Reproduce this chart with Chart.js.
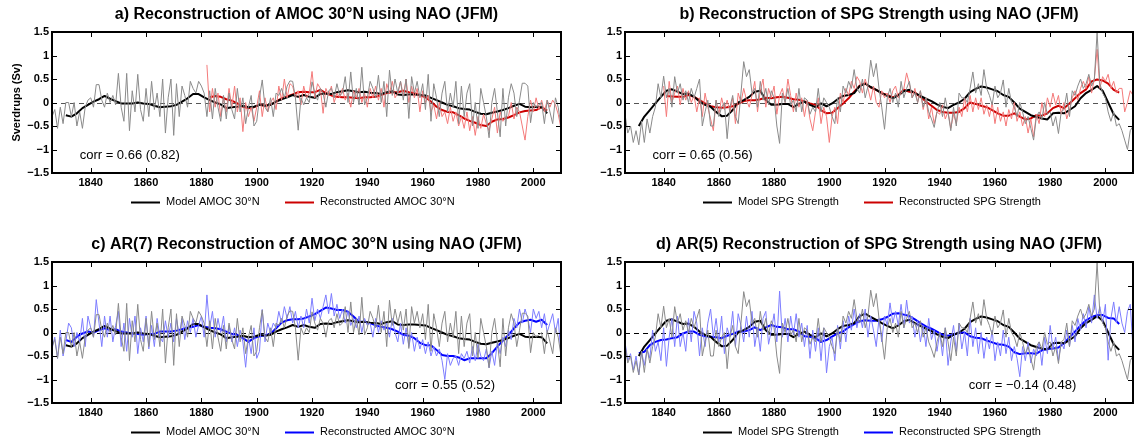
<!DOCTYPE html>
<html>
<head>
<meta charset="utf-8">
<script src="https://cdn.jsdelivr.net/npm/chart.js@4.4.1/dist/chart.umd.min.js"></script>
<style>
html, body { margin: 0; padding: 0; background: #fff; overflow: hidden; width: 1134px; height: 442px; }
.panel { position: absolute; }
</style>
</head>
<body>
<div class="panel" style="left:0;top:0"><canvas id="pa" width="567" height="230"></canvas></div>
<div class="panel" style="left:567px;top:0"><canvas id="pb" width="567" height="230"></canvas></div>
<div class="panel" style="left:0;top:230px"><canvas id="pc" width="567" height="212"></canvas></div>
<div class="panel" style="left:567px;top:230px"><canvas id="pd" width="567" height="212"></canvas></div>
<script>
// year axes
function span(a, b, step) { var out = []; for (var v = a; v <= b; v += step) out.push(v); return out; }
var yearsAll = span(1826, 2010, 1);
var yearsSmooth = span(1831, 2005, 2);
var yearsAmocNao = span(1882, 2010, 1);
var yearsAmocNaoSm = span(1883, 2005, 2);
var yearsSpgNao = span(1840, 2010, 1);
var yearsSpgNaoSm = span(1841, 2005, 2);

// AMOC 30N, model (annual + smoothed)
var amocModel = [
  -0.3, -0.15, -0.55, -0.1, -0.45, 0.0, 0.0, -0.3, 0.0, -0.5,
  -0.2, -0.55, -0.1, 0.05, 0.1, -0.1, 0.38, 0.38, 0.05, -0.1,
  0.2, 0.0, 0.15, -0.05, 0.62, -0.1, -0.4, 0.62, -0.6, 0.25,
  -0.2, 0.6, -0.15, -0.4, 0.3, -0.3, 0.45, -0.15, 0.2, -0.3,
  0.5, -0.65, 0.1, 0.5, -0.7, 0.4, -0.3, 0.35, 0.15, -0.1,
  0.45, 0.3, 0.2, 0.45, 0.35, 0.2, -0.3, 0.25, -0.35, 0.3,
  -0.1, -0.4, 0.15, -0.35, 0.2, -0.15, -0.35, 0.3, -0.2, 0.1,
  -0.45, -0.1, 0.15, -0.5, -0.4, 0.1, 0.48, -0.1, -0.2, 0.1,
  -0.3, 0.2, 0.15, 0.3, 0.1, 0.35, 0.46, 0.45, 0.1, -0.59,
  0.1, -0.05, 0.1, 0.0, 0.44, 0.2, 0.05, 0.3, 0.2, -0.1,
  0.25, 0.3, 0.1, 0.4, 0.15, 0.2, 0.55, 0.0, 0.65, 0.0,
  0.3, -0.05, 0.75, -0.05, 0.1, 0.45, 0.3, 0.1, 0.58, 0.0,
  0.45, -0.3, 0.69, 0.15, 0.5, 0.2, 0.45, 0.05, 0.5, -0.34,
  0.55, 0.2, 0.45, 0.1, 0.4, -0.15, 0.6, -0.4, 0.4, 0.1,
  -0.3, 0.2, 0.45, -0.2, 0.2, -0.1, 0.45, -0.45, 0.35, -0.3,
  0.2, 0.4, -0.5, 0.0, -0.55, 0.3, 0.0, -0.3, -0.75, 0.0,
  0.3, -0.2, -0.73, 0.3, -0.5, 0.1, 0.4, 0.2, -0.3, 0.05,
  0.41, 0.41, 0.35, -0.43, 0.0, -0.1, -0.05, 0.0, -0.45, 0.05,
  -0.2, -0.45, 0.1, -0.1, -0.5
];
var amocModelSm = [
  -0.27, -0.30, -0.23, -0.12, -0.05,
  0.02, 0.07, 0.14, 0.08, 0.03,
  -0.02, -0.02, -0.02, 0.0, -0.02,
  -0.03, -0.07, -0.10, -0.09, -0.08,
  -0.05, 0.02, 0.09, 0.18, 0.18,
  0.11, 0.05, 0.0, -0.04, -0.12,
  -0.10, -0.09, -0.07, -0.10, -0.09,
  -0.05, -0.07, -0.05, 0.02, 0.07,
  0.11, 0.16, 0.12, 0.16, 0.12,
  0.10, 0.18, 0.19, 0.18, 0.22,
  0.24, 0.26, 0.24, 0.22, 0.23,
  0.21, 0.20, 0.18, 0.22, 0.24,
  0.17, 0.16, 0.17, 0.17, 0.16,
  0.15, 0.10, 0.05, 0.0, -0.05,
  -0.08, -0.12, -0.14, -0.15, -0.20,
  -0.24, -0.25, -0.22, -0.19, -0.16,
  -0.12, -0.07, -0.03, -0.09, -0.10,
  -0.09, -0.10, -0.23
];

// AMOC 30N reconstructed from NAO
var amocNao = [
  0.8, -0.2, 0.3, -0.1,
  0.2, -0.3, 0.1, -0.2, 0.3, -0.1, 0.35, -0.2, 0.1, -0.62,
  0.0, -0.3, -0.1, -0.4, -0.1, 0.25, -0.3, 0.1, -0.2, 0.0,
  0.1, -0.15, 0.35, 0.05, 0.5, 0.1, 0.4, 0.35, 0.1, 0.25,
  -0.05, 0.35, 0.1, 0.2, 0.66, 0.1, 0.4, 0.3, -0.23, 0.3,
  0.15, 0.35, 0.0, 0.2, 0.1, 0.3, 0.05, 0.2, -0.1, 0.25,
  0.1, 0.3, 0.0, 0.2, -0.1, 0.3, 0.1, 0.35, 0.05, 0.3,
  -0.1, 0.4, 0.2, 0.45, 0.1, 0.2, 0.45, 0.15, 0.5, 0.0,
  0.35, 0.1, 0.3, -0.2, 0.25, 0.0, 0.15, -0.2, -0.05, -0.35,
  0.0, -0.3, -0.2, -0.45, -0.1, -0.4, -0.2, -0.5, -0.3, -0.55,
  -0.2, -0.6, -0.3, -0.7, -0.3, -0.55, -0.25, -0.45, -0.6, -0.35,
  -0.1, -0.65, -0.2, -0.4, -0.3, -0.3, 0.0, -0.35, -0.1, -0.2,
  -0.5, -0.8, -0.3, 0.05, -0.2, 0.1, -0.15, 0.05, -0.2, 0.05,
  -0.1, 0.05, -0.05, -0.25, -0.55
];
var amocNaoSm = [
  0.11, 0.14, 0.12, 0.07,
  0.04, -0.02, -0.09, -0.12, -0.10,
  -0.05, -0.07, -0.05, 0.02, 0.09,
  0.13, 0.17, 0.22, 0.23, 0.22,
  0.22, 0.27, 0.20, 0.15, 0.12,
  0.11, 0.11, 0.10, 0.09, 0.11,
  0.11, 0.12, 0.16, 0.20, 0.22,
  0.22, 0.25, 0.22, 0.20, 0.16,
  0.11, 0.02, -0.09, -0.16, -0.20,
  -0.21, -0.27, -0.34, -0.39, -0.43,
  -0.48, -0.50, -0.41, -0.36, -0.35,
  -0.32, -0.27, -0.21, -0.18, -0.17,
  -0.16, -0.10, -0.17
];

// AMOC 30N, AR(7) reconstruction
var amocAr = [
  -0.35, -0.1, -0.55, 0.05, -0.5, -0.2, 0.2, 0.1, -0.3, 0.0,
  -0.2, 0.3, -0.3, 0.35, 0.1, -0.1, 0.7, 0.2, -0.3, 0.35,
  -0.1, 0.35, -0.2, 0.15, 0.45, -0.3, 0.2, -0.4, 0.3, -0.1,
  0.35, -0.45, 0.1, -0.2, 0.35, -0.35, 0.15, -0.3, 0.3, -0.1,
  -0.2, 0.25, -0.1, 0.2, -0.2, 0.3, -0.05, 0.3, -0.15, 0.25,
  0.0, 0.3, -0.1, 0.15, 0.35, -0.1, 0.8, 0.1, 0.45, -0.1,
  0.3, 0.0, 0.35, -0.2, 0.15, -0.2, 0.1, -0.3, 0.05, -0.2,
  -0.74, -0.1, -0.45, 0.1, -0.55, -0.4, 0.49, -0.2, 0.2, 0.0,
  0.2, 0.1, 0.45, 0.2, 0.55, 0.3, 0.55, 0.2, 0.45, 0.1,
  0.35, 0.1, 0.5, 0.2, 0.73, 0.25, 0.5, 0.3, 0.55, 0.8,
  0.4, 0.83, 0.35, 0.6, 0.3, 0.5, 0.2, 0.45, 0.15, 0.3,
  0.1, 0.35, 0.0, 0.3, 0.15, 0.2, -0.1, 0.3, 0.0, 0.25,
  0.05, 0.2, -0.1, 0.3, 0.0, -0.2, 0.2, -0.25, 0.1, -0.3,
  0.0, -0.4, -0.1, -0.35, -0.15, -0.45, -0.2, -0.5, -0.3, -0.5,
  -0.35, -0.6, -1.0, -0.45, -0.7, -0.55, -0.5, -0.7, -0.45, -0.55,
  -0.4, -0.65, -0.3, -0.6, -0.25, -0.5, -0.6, -0.35, -0.75, -0.4,
  -0.7, -0.2, -0.45, -0.1, -0.3, 0.05, -0.15, 0.3, 0.1, 0.5,
  0.2, 0.5, 0.3, 0.0, 0.5, 0.3, 0.45, 0.1, 0.4, 0.0,
  0.2, 0.4, 0.0, 0.3, -0.5
];
var amocArSm = [
  -0.16, -0.20, -0.09, -0.02, 0.02,
  0.0, 0.05, 0.09, 0.05, 0.07,
  0.02, 0.0, -0.02, -0.03, -0.05,
  -0.03, -0.03, 0.02, 0.02, 0.02,
  0.04, 0.07, 0.10, 0.12, 0.16,
  0.12, 0.10, 0.09, 0.07, 0.02,
  -0.03, -0.05, -0.12, -0.20, -0.12,
  -0.08, -0.06, -0.03, 0.09, 0.21,
  0.26, 0.28, 0.28, 0.30, 0.34,
  0.39, 0.46, 0.53, 0.51, 0.48,
  0.48, 0.44, 0.34, 0.23, 0.23,
  0.20, 0.15, 0.12, 0.10, 0.07,
  0.02, -0.05, -0.07, -0.12, -0.22,
  -0.27, -0.27, -0.37, -0.48, -0.50,
  -0.50, -0.53, -0.59, -0.55, -0.55,
  -0.55, -0.55, -0.44, -0.30, -0.17,
  -0.05, 0.09, 0.21, 0.25, 0.27,
  0.23, 0.27, 0.16
];

// SPG strength, model
var spgModel = [
  -0.25, -0.65, -0.5, -0.85, -0.6, -0.9, -0.4, -0.85, -0.35, -0.65,
  -0.3, -0.1, 0.4, 0.1, 0.56, 0.1, 0.3, -0.1, 0.55, 0.2,
  0.4, 0.05, 0.25, 0.0, 0.3, 0.1, 0.3, 0.5, -0.5, -0.2,
  0.05, -0.5, -0.5, 0.05, -0.3, -0.1, 0.0, -0.77, -0.1, 0.15,
  -0.3, -0.45, 0.2, 0.87, 0.55, 0.7, 0.2, 0.3, -0.1, 0.45,
  0.05, 0.3, -0.05, 0.25, 0.1, -0.5, -0.87, 0.2, 0.0, 0.3,
  -0.05, 0.05, -0.2, 0.3, -0.2, 0.1, 0.05, -0.25, -0.1, -0.2,
  0.3, -0.2, 0.1, 0.0, -0.1, -0.3, -0.45, 0.1, -0.2, 0.35,
  0.2, 0.45, 0.3, 0.7, 0.3, 0.2, 0.5, 0.1, 0.35, 0.9,
  0.55, 0.83, 0.3, -0.1, -0.57, 0.1, 0.3, 0.0, 0.2, -0.1,
  0.45, 0.1, 0.3, 0.45, 0.1, 0.2, 0.0, 0.25, -0.1, 0.1,
  -0.2, -0.35, -0.53, -0.2, 0.0, -0.3, 0.1, -0.2, -0.6, -0.1,
  -0.5, 0.2, 0.1, 0.1, 0.0, 0.3, 0.65, 0.2, 0.4, 0.15,
  0.7, 0.3, 0.15, -0.05, 0.35, 0.1, 0.2, 0.48, -0.1, 0.3,
  0.0, -0.1, -0.3, 0.0, -0.2, -0.45, -0.3, -0.55, -0.8, -0.3,
  -0.2, -0.35, 0.0, -0.25, -0.2, -0.5, -0.3, -0.66, -0.2, -0.15,
  0.2, -0.3, 0.25, 0.15, 0.35, 0.5, 0.3, 0.4, 0.6, 0.35,
  0.5, 1.49, 0.4, 0.2, 0.1, -0.2, -0.4, -0.2, -0.5, -0.45,
  -0.6, -0.8, -1.0, -0.6, -0.5
];
var spgModelSm = [
  -0.50, -0.30, -0.16, -0.02, 0.12,
  0.25, 0.28, 0.23, 0.18, 0.19,
  0.12, 0.02, -0.05, -0.09, -0.20,
  -0.29, -0.28, -0.16, 0.0, 0.05,
  0.12, 0.23, 0.25, 0.05, -0.05,
  -0.05, -0.03, -0.03, -0.10, -0.03,
  0.02, -0.05, -0.10, -0.02, -0.08,
  -0.02, 0.07, 0.14, 0.16, 0.20,
  0.35, 0.40, 0.33, 0.27, 0.20,
  0.14, 0.09, 0.15, 0.24, 0.27,
  0.20, 0.14, 0.08, 0.03, -0.04,
  -0.09, -0.12, -0.05, 0.0, 0.08,
  0.22, 0.29, 0.34, 0.32, 0.28,
  0.24, 0.16, 0.12, 0.0, -0.13,
  -0.20, -0.27, -0.31, -0.34, -0.36,
  -0.23, -0.22, -0.23, -0.16, -0.08,
  0.09, 0.20, 0.27, 0.35, 0.25,
  0.0, -0.25, -0.37
];

// SPG strength reconstructed from NAO
var spgNao = [
  0.35, -0.3, 0.45, 0.0, 0.2, 0.35, -0.05, 0.3, 0.05, 0.25,
  0.0, 0.15, -0.2, 0.1, -0.3, 0.2, -0.1, -0.35, -0.6, 0.05,
  -0.25, 0.1, -0.15, 0.05, -0.2, 0.1, -0.45, 0.2, 0.0, 0.3,
  0.05, -0.1, 0.15, 0.45, -0.2, 0.25, 0.5, -0.1, 0.3, 0.1,
  0.35, -0.25, 0.15, 0.3, 0.0, 0.5, 0.15, -0.2, 0.2, -0.1,
  0.1, -0.3, 0.05, -0.35, -0.6, -0.2, 0.1, -0.45, -0.1, -0.3,
  -0.85, -0.3, -0.1, -0.45, 0.2, 0.0, 0.3, 0.15, 0.45, 0.3,
  0.55, 0.45, 0.2, 0.5, 0.3, 0.05, 0.35, 0.0, -0.1, 0.25,
  0.1, 0.2, 0.0, 0.25, 0.35, 0.1, 0.2, 0.3, 0.63, 0.4,
  0.1, 0.3, 0.0, 0.25, -0.15, 0.1, -0.35, -0.1, -0.45, -0.2,
  -0.25, -0.05, -0.35, -0.2, -0.55, -0.25, -0.45, -0.1, -0.3, 0.1,
  -0.2, 0.15, -0.2, 0.1, -0.15, 0.1, -0.25, -0.05, -0.3, 0.0,
  -0.45, -0.1, -0.4, -0.2, -0.5, -0.15, -0.35, 0.0, -0.4, -0.2,
  -0.5, -0.3, -0.65, -0.35, -0.73, -0.25, -0.45, 0.0, -0.3, 0.1,
  -0.1, 0.2, -0.05, 0.15, -0.25, 0.0, -0.35, -0.15, 0.1, 0.25,
  0.05, 0.3, 0.45, 0.3, 0.55, 0.2, 0.5, 1.13, 0.3, 0.55,
  0.45, 0.6, 0.3, 0.45, 0.2, 0.3, 0.3, -0.2, 0.0, 0.25,
  0.15
];
var spgNaoSm = [
  0.14, 0.13, 0.12, 0.12, 0.16,
  0.12, 0.05, -0.02, -0.08, -0.10,
  -0.11, -0.10, -0.08, -0.03, 0.03,
  0.05, 0.05, 0.07, 0.10, 0.09,
  0.11, 0.12, 0.10, 0.07, 0.06,
  0.02, -0.02, -0.05, -0.16, -0.23,
  -0.22, -0.12, -0.02, 0.09, 0.23,
  0.36, 0.41, 0.32, 0.27, 0.20,
  0.16, 0.11, 0.16, 0.27, 0.23,
  0.21, 0.12, 0.02, -0.07, -0.16,
  -0.20, -0.22, -0.22, -0.20, -0.12,
  0.0, -0.03, -0.07, -0.10, -0.16,
  -0.23, -0.28, -0.28, -0.23, -0.30,
  -0.36, -0.34, -0.27, -0.28, -0.23,
  -0.12, -0.07, -0.12, -0.02, 0.09,
  0.20, 0.28, 0.45, 0.49, 0.47,
  0.40, 0.27, 0.21
];

// SPG strength, AR(5) reconstruction
var spgAr = [
  -0.2, -0.6, -0.45, -0.8, -0.5, -0.9, -0.4, -0.7, -0.35, -0.55,
  0.05, -0.4, -0.2, -0.6, 0.1, -0.72, -0.1, 0.3, -0.3, 0.35,
  -0.3, 0.0, -0.4, 0.3, -0.2, 0.45, 0.2, -0.5, 0.1, -0.3,
  0.2, 0.5, -0.1, 0.3, -0.2, 0.35, -0.45, 0.1, -0.1, 0.45,
  -0.3, 0.4, 0.15, -0.2, 0.35, -0.1, 0.45, -0.3, 0.1, -0.4,
  0.3, 0.45, -0.25, 0.05, 0.4, -0.2, 0.88, -0.1, 0.3, -0.2,
  0.35, -0.05, 0.4, -0.1, 0.2, -0.3, 0.15, -0.55, 0.05, -0.4,
  0.1, -0.6, 0.1, -0.86, -0.3, -0.1, -0.6, 0.15, -0.35, 0.25,
  -0.2, 0.35, 0.05, 0.5, 0.1, 0.4, 0.1, 0.5, -0.1, 0.35,
  0.05, -0.3, 0.3, -0.2, 0.35, 0.15, 0.63, 0.2, 0.45, 0.15,
  0.6, 0.1, 0.69, 0.2, 0.35, -0.1, 0.25, -0.2, 0.15, -0.3,
  0.3, -0.15, 0.05, -0.4, 0.0, -0.5, 0.1, -0.7, -0.2, 0.15,
  -0.4, 0.2, -0.35, 0.0, -0.5, 0.3, -0.3, 0.1, -0.45, 0.0,
  -0.55, -0.1, -0.35, 0.05, -0.6, -0.2, -0.5, 0.05, -0.45, -0.1,
  -0.6, -0.3, -0.55, -0.94, -0.3, -0.6, -0.2, -0.65, -0.35, -0.5,
  -0.2, -0.7, -0.1, -0.45, 0.15, -0.35, -0.1, -0.6, -0.2, -0.35,
  0.05, -0.3, 0.15, -0.2, 0.3, 0.05, 0.4, 0.1, 0.55, 0.2,
  0.8, 0.3, 0.55, 0.2, 0.6, -0.59, 0.3, 0.65, 0.2, 0.55,
  0.2, 0.0, 0.45, 0.6, -0.34
];
var spgArSm = [
  -0.44, -0.41, -0.27, -0.20, -0.16,
  -0.15, -0.12, -0.10, -0.02, 0.02,
  0.02, -0.05, -0.08, -0.09, -0.10,
  -0.12, -0.07, -0.03, 0.02, 0.02,
  0.05, 0.11, 0.05, 0.11, 0.16,
  0.12, 0.11, 0.07, 0.07, 0.02,
  -0.08, -0.09, -0.12, -0.20, -0.16,
  -0.09, -0.02, 0.02, 0.11, 0.18,
  0.24, 0.26, 0.25, 0.25, 0.28,
  0.33, 0.40, 0.41, 0.38, 0.35,
  0.28, 0.20, 0.13, 0.08, 0.02,
  -0.05, -0.07, -0.05, 0.0, 0.0,
  -0.08, -0.11, -0.12, -0.17, -0.21,
  -0.25, -0.26, -0.30, -0.42, -0.46,
  -0.44, -0.44, -0.45, -0.38, -0.35,
  -0.34, -0.32, -0.23, -0.10, 0.02,
  0.15, 0.26, 0.33, 0.37, 0.37,
  0.31, 0.30, 0.18
];

var xTicks = [1840, 1860, 1880, 1900, 1920, 1940, 1960, 1980, 2000];
var yTicks = [-1.5, -1, -0.5, 0, 0.5, 1, 1.5];

var FONT = "'Liberation Sans', Arial, Helvetica, sans-serif";
Chart.defaults.font.family = FONT;
Chart.defaults.color = '#000';

var GRAY = '#8a8a8a', LRED = '#f47a7a', RED = '#cc0000', LBLUE = '#7d7dff', BLUE = '#0000ff';

function pts(xs, ys) { return xs.map(function (x, i) { return { x: x, y: ys[i] }; }); }

// dashed zero line, box and inward ticks (MATLAB style)
var framePlugin = {
  id: 'frame',
  beforeDatasetsDraw: function (chart, args, opts) {
    var c = chart.ctx, a = chart.chartArea, y0 = Math.round(chart.scales.y.getPixelForValue(0)) + 0.5;
    c.save();
    c.strokeStyle = opts.zeroColor;
    c.lineWidth = 1.2;
    c.setLineDash([5, 4]);
    c.beginPath(); c.moveTo(a.left, y0); c.lineTo(a.right, y0); c.stroke();
    c.restore();
  },
  afterDraw: function (chart) {
    var c = chart.ctx, a = chart.chartArea, sx = chart.scales.x, sy = chart.scales.y;
    c.save();
    c.strokeStyle = '#000';
    c.lineWidth = 1;
    c.beginPath();
    xTicks.forEach(function (v) {
      var px = Math.round(sx.getPixelForValue(v)) + 0.5;
      c.moveTo(px, a.bottom); c.lineTo(px, a.bottom - 5);
      c.moveTo(px, a.top); c.lineTo(px, a.top + 5);
    });
    yTicks.forEach(function (v) {
      var py = Math.round(sy.getPixelForValue(v)) + 0.5;
      c.moveTo(a.left, py); c.lineTo(a.left + 5, py);
      c.moveTo(a.right, py); c.lineTo(a.right - 5, py);
    });
    c.stroke();
    c.lineWidth = 2;
    c.strokeRect(a.left, a.top, a.width, a.height);
    c.restore();
  }
};

// corr text + line legend under the axis
var notesPlugin = {
  id: 'notes',
  afterDraw: function (chart, args, opts) {
    var c = chart.ctx;
    c.save();
    c.fillStyle = '#000';
    c.font = '13px ' + FONT;
    c.textBaseline = 'middle';
    c.textAlign = 'left';
    c.fillText(opts.corr, chart.scales.x.getPixelForValue(opts.corrAt[0]), chart.scales.y.getPixelForValue(opts.corrAt[1]));
    c.font = '11px ' + FONT;
    var items = chart.data.datasets.filter(function (d) { return d.inLegend; });
    items.forEach(function (d, i) {
      var x = opts.legendX[i], y = opts.legendY + 0.5;
      c.strokeStyle = d.borderColor;
      c.lineWidth = 2;
      c.beginPath(); c.moveTo(x, y); c.lineTo(x + 29, y); c.stroke();
      c.fillText(d.label, x + 35, opts.legendY);
    });
    c.restore();
  }
};

function makePanel(id, p) {
  var tickFont = { size: 11, weight: 'bold' };
  return new Chart(document.getElementById(id), {
    type: 'line',
    data: {
      datasets: [
        { label: 'annual model', data: pts(yearsAll, p.model), borderColor: GRAY, borderWidth: 1 },
        { label: 'annual recon', data: pts(p.reconYears, p.recon), borderColor: p.light, borderWidth: 1 },
        { label: p.modelLabel, data: pts(yearsSmooth, p.modelSm), borderColor: '#000', borderWidth: 2, inLegend: true },
        { label: p.reconLabel, data: pts(p.reconSmYears, p.reconSm), borderColor: p.dark, borderWidth: 2, inLegend: true }
      ]
    },
    options: {
      responsive: false,
      animation: false,
      events: [],
      elements: { point: { radius: 0 }, line: { tension: 0, borderJoinStyle: 'round' } },
      layout: { padding: { left: 0, right: p.padRight, top: 0, bottom: p.padBottom } },
      scales: {
        x: {
          type: 'linear', min: 1826, max: 2010,
          grid: { display: false, drawTicks: false },
          border: { display: false },
          ticks: { stepSize: 20, includeBounds: false, padding: 3, font: tickFont, color: '#000',
                   callback: function (v) { return String(v); } },
          afterFit: function (s) { s.height = 20; }
        },
        y: {
          min: -1.5, max: 1.5,
          grid: { display: false, drawTicks: false },
          border: { display: false },
          title: { display: !!p.yTitle, text: p.yTitle || '', font: { size: 11, weight: 'bold' }, padding: { top: 10, bottom: 0 } },
          ticks: { stepSize: 0.5, padding: 3, font: tickFont, color: '#000',
                   callback: function (v) { var r = Math.round(v * 10) / 10; return (r < 0 ? '\u2212' : '') + Math.abs(r); } },
          afterFit: function (s) { s.width = p.axisWidth; }
        }
      },
      plugins: {
        legend: { display: false },
        tooltip: { enabled: false },
        title: { display: true, text: p.title, fullSize: false, color: '#000',
                 font: { size: 16, weight: 'bold', lineHeight: 1 }, padding: { top: 7, bottom: 9 } },
        frame: { zeroColor: p.zeroColor },
        notes: { corr: p.corr, corrAt: p.corrAt, legendX: p.legendX, legendY: 202 }
      }
    },
    plugins: [framePlugin, notesPlugin]
  });
}

makePanel('pa', {
  title: 'a) Reconstruction of AMOC 30\u00b0N using NAO (JFM)', yTitle: 'Sverdrups (Sv)',
  axisWidth: 52, padRight: 6, padBottom: 37, zeroColor: '#555',
  model: amocModel, modelSm: amocModelSm, recon: amocNao, reconYears: yearsAmocNao,
  reconSm: amocNaoSm, reconSmYears: yearsAmocNaoSm, light: LRED, dark: RED,
  modelLabel: 'Model AMOC 30\u00b0N', reconLabel: 'Reconstructed AMOC 30\u00b0N',
  corr: 'corr = 0.66 (0.82)', corrAt: [1836, -1.13], legendX: [131, 285]
});
makePanel('pb', {
  title: 'b) Reconstruction of SPG Strength using NAO (JFM)',
  axisWidth: 58, padRight: 1, padBottom: 37, zeroColor: '#555',
  model: spgModel, modelSm: spgModelSm, recon: spgNao, reconYears: yearsSpgNao,
  reconSm: spgNaoSm, reconSmYears: yearsSpgNaoSm, light: LRED, dark: RED,
  modelLabel: 'Model SPG Strength', reconLabel: 'Reconstructed SPG Strength',
  corr: 'corr = 0.65 (0.56)', corrAt: [1836, -1.13], legendX: [136, 297]
});
makePanel('pc', {
  title: 'c) AR(7) Reconstruction of AMOC 30\u00b0N using NAO (JFM)',
  axisWidth: 52, padRight: 6, padBottom: 19, zeroColor: '#000',
  model: amocModel, modelSm: amocModelSm, recon: amocAr, reconYears: yearsAll,
  reconSm: amocArSm, reconSmYears: yearsSmooth, light: LBLUE, dark: BLUE,
  modelLabel: 'Model AMOC 30\u00b0N', reconLabel: 'Reconstructed AMOC 30\u00b0N',
  corr: 'corr = 0.55 (0.52)', corrAt: [1950, -1.13], legendX: [131, 285]
});
makePanel('pd', {
  title: 'd) AR(5) Reconstruction of SPG Strength using NAO (JFM)',
  axisWidth: 58, padRight: 1, padBottom: 19, zeroColor: '#000',
  model: spgModel, modelSm: spgModelSm, recon: spgAr, reconYears: yearsAll,
  reconSm: spgArSm, reconSmYears: yearsSmooth, light: LBLUE, dark: BLUE,
  modelLabel: 'Model SPG Strength', reconLabel: 'Reconstructed SPG Strength',
  corr: 'corr = \u22120.14 (0.48)', corrAt: [1950.5, -1.13], legendX: [136, 297]
});
</script>
</body>
</html>
